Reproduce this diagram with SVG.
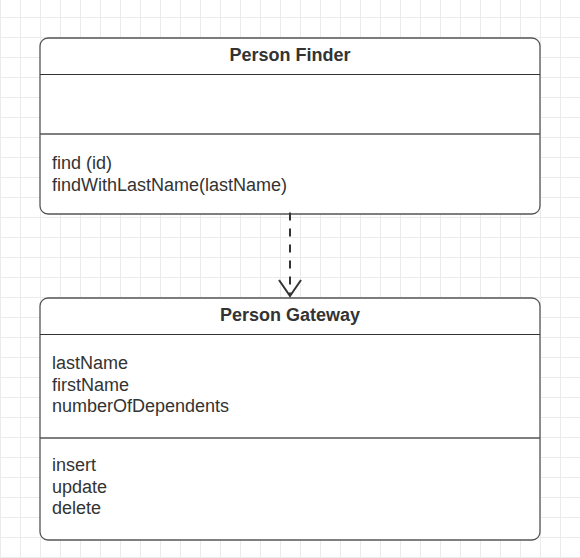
<svg xmlns="http://www.w3.org/2000/svg" width="580" height="558" viewBox="0 0 580 558">
  <defs>
    <pattern id="grid" x="0" y="17" width="20" height="20" patternUnits="userSpaceOnUse">
      <path d="M0.5 0V20M0 0.5H20" fill="none" stroke="#ebebeb" stroke-width="1"/>
    </pattern>
  </defs>
  <style>
    .box { fill: #ffffff; stroke: #555555; stroke-width: 1.3; }
    .hdr { stroke: #333333; stroke-width: 1; }
    .div { stroke: #555555; stroke-width: 1.3; }
    .title { font-family: "Liberation Sans", Arial, sans-serif; font-size: 18px; font-weight: bold; fill: #333333; text-anchor: middle; }
    .body { font-family: "Liberation Sans", Arial, sans-serif; font-size: 18px; fill: #333333; }
    .conn { fill: none; stroke: #333333; stroke-width: 2; stroke-dasharray: 8 8; }
    .head { fill: none; stroke: #333333; stroke-width: 2; }
  </style>
  <rect width="580" height="558" fill="#ffffff"/>
  <rect width="580" height="558" fill="url(#grid)"/>
  <g id="person-finder">
    <rect class="box" x="40" y="38" width="500" height="176" rx="8" ry="8"/>
    <line class="hdr" x1="40" y1="74.5" x2="540" y2="74.5"/>
    <line class="div" x1="40" y1="134" x2="540" y2="134"/>
    <text class="title" x="290" y="61">Person Finder</text>
    <text class="body" x="52" y="169">find (id)</text>
    <text class="body" x="52" y="191">findWithLastName(lastName)</text>
  </g>
  <g id="person-gateway">
    <rect class="box" x="40" y="298" width="500" height="242" rx="8" ry="8"/>
    <line class="hdr" x1="40" y1="334.5" x2="540" y2="334.5"/>
    <line class="div" x1="40" y1="438" x2="540" y2="438"/>
    <text class="title" x="290" y="321">Person Gateway</text>
    <text class="body" x="52" y="369">lastName</text>
    <text class="body" x="52" y="390.5">firstName</text>
    <text class="body" x="52" y="412">numberOfDependents</text>
    <text class="body" x="52" y="471">insert</text>
    <text class="body" x="52" y="492.5">update</text>
    <text class="body" x="52" y="514">delete</text>
  </g>
  <g id="connectors">
    <path class="conn" d="M290 212.5V295"/>
    <path class="head" d="M279 280L290 296L301 280"/>
  </g>
</svg>
